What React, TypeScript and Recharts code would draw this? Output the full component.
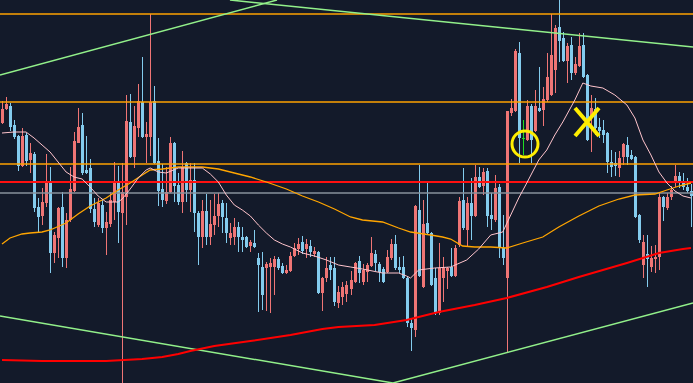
import {
  ComposedChart,
  Bar,
  Line,
  XAxis,
  YAxis,
  ReferenceLine,
  ReferenceDot,
} from "recharts";

// candle prices, one entry per bar (index 0 = leftmost)
const opens = [
  152.77, 152.91, 152.94, 152.75, 152.64, 152.34, 152.65, 152.4, 152.46, 151.93,
  151.84, 151.97, 152.17, 151.47, 151.62, 151.93, 151.42, 151.8, 152.09, 152.57,
  152.75, 152.3, 152.32, 151.91, 151.75, 151.95, 151.72, 151.76, 151.98, 152.19,
  151.87, 152.03, 152.78, 152.43, 152.72, 152.98, 152.63, 152.63, 152.99, 152.39,
  152.11, 151.99, 152.08, 152.57, 152.15, 151.98, 152.37, 152.1, 152.2, 151.87,
  151.63, 151.89, 151.63, 151.75, 151.84, 151.97, 151.82, 151.62, 151.63, 151.73,
  151.63, 151.63, 151.54, 151.57, 151.42, 151.33, 151.32, 151.33, 151.33, 151.41,
  151.34, 151.27, 151.29, 151.44, 151.51, 151.58, 151.51, 151.54, 151.46, 151.48,
  151.07, 151.22, 151.35, 151.32, 150.97, 151.03, 151.06, 151.11, 151.18, 151.39,
  151.18, 151.28, 151.34, 151.46, 151.36, 151.31, 151.28, 151.42, 151.56, 151.33,
  151.33, 151.22, 150.77, 150.7, 151.9, 151.13, 151.77, 151.67, 151.22, 150.87,
  151.22, 151.29, 151.33, 151.24, 151.55, 152.0, 151.7, 151.97, 151.84, 152.23,
  152.14, 152.29, 151.85, 151.8, 152.13, 151.52, 151.22, 152.87, 152.89, 153.47,
  152.62, 152.6, 152.94, 152.69, 152.92, 152.9, 153.0, 153.05, 153.3, 153.73,
  153.62, 153.39, 153.55, 153.27, 153.34, 153.55, 153.25, 152.82, 152.91, 152.73,
  152.7, 152.67, 152.38, 152.37, 152.32, 152.43, 152.55, 152.45, 152.43, 151.85,
  151.35, 151.46, 151.33, 151.41, 151.43, 152.03, 151.92, 152.03, 152.18, 152.24,
  152.18, 152.13, 152.09,
];

const highs = [
  152.99, 153.03, 152.97, 152.8, 152.65, 152.72, 152.67, 152.57, 152.48, 152.02,
  152.12, 152.46, 152.33, 151.68, 151.93, 152.08, 151.87, 152.33, 152.68, 152.92,
  152.87, 152.64, 152.41, 152.02, 152.02, 152.0, 151.88, 152.08, 152.38, 152.34,
  152.37, 153.05, 153.06, 152.94, 153.16, 153.43, 152.78, 153.86, 153.14, 152.62,
  152.36, 152.33, 152.63, 152.58, 152.27, 152.49, 152.38, 152.37, 152.37, 151.89,
  152.0, 152.06, 152.0, 152.06, 152.07, 152.0, 151.97, 151.77, 151.82, 151.78,
  151.73, 151.64, 151.6, 151.7, 151.47, 151.48, 151.38, 151.42, 151.44, 151.43,
  151.37, 151.35, 151.48, 151.57, 151.62, 151.64, 151.61, 151.6, 151.53, 151.49,
  151.23, 151.43, 151.43, 151.43, 151.14, 151.18, 151.19, 151.29, 151.38, 151.44,
  151.36, 151.37, 151.63, 151.5, 151.38, 151.33, 151.5, 151.61, 151.65, 151.43,
  151.44, 151.23, 150.82, 151.95, 152.35, 152.0, 152.18, 151.68, 151.32, 151.57,
  151.43, 151.33, 151.52, 151.55, 152.03, 152.32, 152.03, 152.22, 152.35, 152.33,
  152.32, 152.32, 152.07, 152.25, 152.16, 151.85, 152.89, 153.01, 153.51, 153.58,
  152.8, 153.0, 152.96, 153.1, 153.33, 153.13, 153.47, 153.86, 153.75, 154.0,
  153.68, 153.57, 153.63, 153.43, 153.67, 153.67, 153.26, 153.05, 153.02, 152.82,
  152.8, 152.68, 152.5, 152.48, 152.49, 152.57, 152.63, 152.5, 152.44, 151.86,
  151.65, 151.65, 151.54, 151.55, 152.07, 152.04, 152.07, 152.14, 152.35, 152.28,
  152.27, 152.22, 152.16,
];

const lows = [
  152.76, 152.9, 152.69, 152.61, 152.29, 152.33, 152.34, 152.27, 151.88, 151.68,
  151.75, 151.93, 151.27, 151.37, 151.42, 151.33, 151.32, 151.78, 152.08, 152.57,
  152.25, 152.26, 151.87, 151.73, 151.73, 151.67, 151.45, 151.73, 151.8, 151.57,
  150.17, 151.75, 152.42, 152.32, 152.63, 152.62, 152.37, 152.44, 152.36, 151.94,
  151.93, 151.96, 152.07, 151.98, 151.95, 151.87, 151.98, 151.88, 151.68, 151.35,
  151.52, 151.55, 151.55, 151.65, 151.73, 151.67, 151.57, 151.55, 151.55, 151.48,
  151.48, 151.52, 151.48, 151.52, 150.88, 150.9, 150.89, 150.87, 151.05, 151.3,
  151.26, 151.26, 151.28, 151.43, 151.45, 151.46, 151.42, 151.43, 151.43, 151.06,
  150.89, 151.18, 151.2, 150.94, 150.92, 150.95, 150.98, 151.05, 151.17, 151.17,
  151.15, 151.18, 151.33, 151.29, 151.18, 151.17, 151.27, 151.4, 151.3, 151.27,
  151.21, 150.73, 150.49, 150.63, 151.23, 151.12, 151.66, 151.14, 150.85, 150.85,
  150.98, 151.11, 151.23, 151.23, 151.53, 151.7, 151.53, 151.6, 151.83, 152.12,
  152.05, 151.73, 151.7, 151.78, 151.42, 151.35, 150.47, 152.84, 152.88, 152.37,
  152.45, 152.59, 152.37, 152.68, 152.88, 152.74, 152.98, 153.04, 153.07, 153.38,
  153.38, 153.17, 153.2, 153.25, 153.33, 153.22, 152.59, 152.48, 152.65, 152.62,
  152.57, 152.27, 152.23, 152.24, 152.23, 152.35, 152.35, 152.4, 151.82, 151.57,
  151.22, 151.13, 151.28, 151.27, 151.3, 151.79, 151.9, 152.0, 152.13, 152.12,
  152.1, 152.07, 151.73,
];

const closes = [
  152.91, 152.96, 152.73, 152.63, 152.34, 152.64, 152.39, 152.47, 151.92, 151.83,
  151.98, 152.17, 151.47, 151.65, 151.92, 151.42, 151.8, 152.11, 152.59, 152.73,
  152.27, 152.27, 151.91, 151.78, 151.97, 151.72, 151.78, 152.0, 152.18, 151.88,
  152.08, 152.79, 152.43, 152.74, 152.99, 152.63, 152.66, 152.98, 152.37, 152.09,
  152.0, 152.08, 152.57, 152.14, 151.98, 152.33, 152.1, 152.2, 151.87, 151.63,
  151.89, 151.63, 151.76, 151.84, 151.96, 151.83, 151.67, 151.67, 151.73, 151.63,
  151.6, 151.53, 151.58, 151.53, 151.35, 151.05, 151.36, 151.37, 151.41, 151.32,
  151.27, 151.3, 151.44, 151.52, 151.56, 151.49, 151.56, 151.48, 151.49, 151.07,
  151.22, 151.32, 151.3, 150.98, 151.08, 151.13, 151.15, 151.2, 151.37, 151.27,
  151.3, 151.35, 151.47, 151.37, 151.28, 151.18, 151.43, 151.56, 151.32, 151.3,
  151.22, 150.77, 150.72, 151.94, 151.24, 151.76, 151.67, 151.15, 150.87, 151.32,
  151.32, 151.32, 151.24, 151.52, 151.99, 151.72, 151.97, 151.84, 152.23, 152.13,
  152.28, 151.84, 151.81, 152.12, 151.52, 151.42, 152.89, 152.92, 153.49, 152.62,
  152.61, 152.94, 152.6, 152.94, 152.89, 153.01, 153.23, 153.45, 153.72, 153.59,
  153.39, 153.54, 153.27, 153.36, 153.54, 153.23, 152.6, 152.92, 152.72, 152.69,
  152.65, 152.38, 152.33, 152.34, 152.42, 152.56, 152.43, 152.41, 151.83, 151.6,
  151.58, 151.41, 151.42, 151.43, 152.03, 151.93, 152.03, 152.1, 152.24, 152.17,
  152.13, 152.09, 152.04,
];

// moving averages as [bar index, value]
const fastMa: [number, number][] = [
  [0, 152.67], [3, 152.68], [6, 152.68], [8, 152.62], [10, 152.55], [12, 152.48],
  [14, 152.38], [16, 152.28], [18, 152.23], [20, 152.21], [22, 152.13], [24, 152.04],
  [26, 151.98], [29, 151.98], [30, 152.01], [32, 152.11], [34, 152.22], [36, 152.3],
  [37, 152.32], [39, 152.28], [41, 152.27], [44, 152.32], [50, 152.32], [52, 152.26],
  [54, 152.18], [56, 152.05], [58, 151.95], [60, 151.9], [62, 151.84], [64, 151.75],
  [66, 151.67], [68, 151.6], [70, 151.56], [72, 151.53], [75, 151.47], [78, 151.44],
  [81, 151.4], [84, 151.35], [87, 151.33], [90, 151.31], [95, 151.27], [99, 151.27],
  [101, 151.24], [102, 151.22], [104, 151.3], [108, 151.32], [112, 151.33], [116, 151.4],
  [119, 151.51], [122, 151.65], [125, 151.68], [127, 151.85], [129, 152.02], [131, 152.17],
  [134, 152.4], [136, 152.5], [138, 152.65], [140, 152.78], [143, 153.0], [145, 153.17],
  [147, 153.14], [150, 153.12], [153, 153.05], [156, 152.95], [158, 152.82], [160, 152.6],
  [162, 152.45], [164, 152.28], [166, 152.17], [168, 152.09], [170, 152.04], [172, 152.02],
];

const midMa: [number, number][] = [
  [0, 151.56], [2, 151.62], [5, 151.66], [7, 151.67], [10, 151.68], [12, 151.7],
  [16, 151.77], [19, 151.86], [22, 151.94], [26, 152.02], [29, 152.1], [32, 152.17],
  [35, 152.25], [37, 152.3], [40, 152.31], [44, 152.33], [50, 152.33], [54, 152.31],
  [58, 152.27], [62, 152.23], [66, 152.18], [71, 152.11], [75, 152.04], [79, 151.98],
  [83, 151.91], [87, 151.83], [90, 151.8], [95, 151.78], [99, 151.72], [102, 151.68],
  [107, 151.65], [110, 151.63], [112, 151.61], [115, 151.54], [118, 151.53], [122, 151.53],
  [126, 151.52], [130, 151.57], [135, 151.63], [139, 151.73], [144, 151.84], [149, 151.94],
  [154, 152.01], [158, 152.05], [163, 152.06], [166, 152.1], [169, 152.14], [172, 152.17],
];

const slowMa: [number, number][] = [
  [0, 150.4], [10, 150.39], [26, 150.39], [35, 150.41], [40, 150.43], [44, 150.46],
  [47, 150.49], [53, 150.54], [62, 150.59], [72, 150.65], [80, 150.71], [84, 150.73],
  [93, 150.75], [101, 150.8], [109, 150.88], [118, 150.95], [126, 151.02], [136, 151.13],
  [144, 151.23], [150, 151.3], [156, 151.37], [164, 151.47], [170, 151.51], [172, 151.52],
];

// horizontal levels
const orangeLevels = [153.86, 152.98, 152.36];
const redLevel = 152.18;
const greyLevel = 152.07;

// trendlines as [bar index, price]
const upperTrendA: [number, number][] = [[-0.5, 153.25], [68.65, 154.0]];
const upperTrendB: [number, number][] = [[56.9, 154.0], [172.5, 153.53]];
const lowerTrendA: [number, number][] = [[-0.5, 150.84], [97.6, 150.17]];
const lowerTrendB: [number, number][] = [[97.6, 150.17], [172.5, 150.97]];

const signalBar = 130;
const circleMark = { i: 130.56, price: 152.56 };
const crossMark = { i: 146.04, price: 152.78 };

const priceMin = 150.17;
const priceMax = 154.0;

const toMap = (pts: [number, number][]) => new Map(pts.map(([i, v]) => [i, v]));
const fastMap = toMap(fastMa);
const midMap = toMap(midMa);
const slowMap = toMap(slowMa);

const data = opens.map((o, i) => ({
  i,
  open: o,
  high: highs[i],
  low: lows[i],
  close: closes[i],
  fast: fastMap.get(i) ?? null,
  mid: midMap.get(i) ?? null,
  slow: slowMap.get(i) ?? null,
}));

const UP = "#ef7575";
const DOWN = "#84ccee";
const SIGNAL = "#22dd22";
const BG = "#131a2a";

function Candle(props: any) {
  const { x, y, width, height, payload } = props;
  if (!payload || y == null || height == null) return null;
  const top = Math.min(y, y + height);
  const h = Math.abs(height);
  const span = payload.high - payload.low;
  const toY = (v: number) => top + (span ? ((payload.high - v) / span) * h : 0);
  const cx = Math.floor(x + width / 2) + 0.5;
  const up = payload.close >= payload.open;
  const color = payload.i === signalBar ? SIGNAL : up ? UP : DOWN;
  const bTop = toY(Math.max(payload.open, payload.close));
  const bBot = toY(Math.min(payload.open, payload.close));
  return (
    <g>
      <line x1={cx} x2={cx} y1={top} y2={top + h} stroke={color} strokeWidth={1} />
      <rect
        x={cx - 1.5}
        y={bTop}
        width={3}
        height={Math.max(1, bBot - bTop)}
        fill={color}
      />
    </g>
  );
}

function Cross(props: any) {
  const { cx, cy } = props;
  if (cx == null || cy == null) return null;
  return (
    <path
      d={`M${cx - 12},${cy - 14}L${cx + 12},${cy + 14}M${cx + 12},${cy - 14}L${cx - 12},${cy + 14}`}
      stroke="#ffee00"
      strokeWidth={4}
      fill="none"
    />
  );
}

const seg = (pts: [number, number][]) => pts.map(([x, y]) => ({ x, y }));

export default function App() {
  return (
    <div style={{ position: "absolute", left: 0, top: 0, width: 693, height: 383, background: BG }}>
      <ComposedChart
        width={693}
        height={383}
        data={data}
        margin={{ top: 0, right: 0, bottom: 0, left: 0 }}
        style={{ background: BG }}
      >
        <XAxis
          dataKey="i"
          type="number"
          domain={[-0.5, 172.5]}
          allowDataOverflow
          hide
        />
        <YAxis domain={[priceMin, priceMax]} allowDataOverflow hide />
        <Bar
          dataKey={(d: any) => [d.low, d.high]}
          barSize={3}
          shape={Candle}
          activeBar={false}
          isAnimationActive={false}
        />
        {orangeLevels.map((v) => (
          <ReferenceLine key={v} y={v} stroke="#ffa200" strokeWidth={1.5} ifOverflow="visible" />
        ))}
        <ReferenceLine y={redLevel} stroke="#ff1010" strokeWidth={2} />
        <ReferenceLine y={greyLevel} stroke="#89929c" strokeWidth={1.5} />
        {[upperTrendA, upperTrendB, lowerTrendA, lowerTrendB].map((t, k) => (
          <ReferenceLine
            key={k}
            segment={seg(t)}
            stroke="#92f08a"
            strokeWidth={1.5}
            ifOverflow="visible"
          />
        ))}
        <Line
          dataKey="slow"
          stroke="#ff0000"
          strokeWidth={2}
          dot={false}
          activeDot={false}
          connectNulls
          isAnimationActive={false}
        />
        <Line
          dataKey="mid"
          stroke="#ffa500"
          strokeWidth={1.3}
          dot={false}
          activeDot={false}
          connectNulls
          isAnimationActive={false}
        />
        <Line
          dataKey="fast"
          stroke="#ffc4cc"
          strokeWidth={1}
          dot={false}
          activeDot={false}
          connectNulls
          isAnimationActive={false}
        />
        <ReferenceDot
          x={circleMark.i}
          y={circleMark.price}
          r={13}
          fill="none"
          stroke="#ffee00"
          strokeWidth={3}
        />
        <ReferenceDot x={crossMark.i} y={crossMark.price} r={12} shape={Cross} />
      </ComposedChart>
    </div>
  );
}
